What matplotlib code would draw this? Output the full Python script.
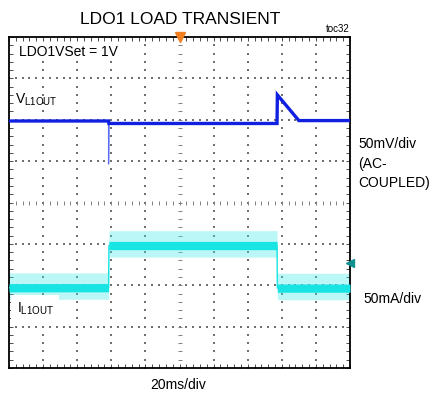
import numpy as np
import matplotlib
matplotlib.use("Agg")
import matplotlib.pyplot as plt

# ---------------- data (in scope divisions) ----------------
# Output voltage trace (AC-coupled, 50mV/div)
v_time = [0.0, 2.92, 2.93, 7.86, 7.87, 8.50, 10.0]
v_level = [1.97, 1.97, 1.91, 1.91, 2.60, 1.98, 1.98]
# Undershoot spike at load step
spike_time = [2.92, 2.92, 2.93]
spike_level = [1.97, 0.93, 1.91]
# Load current trace (50mA/div)
i_time = [0.0, 2.92, 2.93, 7.86, 7.87, 10.0]
i_level = [-2.06, -2.06, -1.04, -1.04, -2.07, -2.07]
# noise envelope (divisions)
i_core_half = 0.10
i_spike_up = 0.36
i_spike_down = 0.28

title = "LDO1 LOAD TRANSIENT"
plt.rcParams['font.family'] = ['Liberation Sans', 'DejaVu Sans']
plt.rcParams['mathtext.fontset'] = 'custom'
plt.rcParams['mathtext.rm'] = 'Liberation Sans'
plt.rcParams['mathtext.it'] = 'Liberation Sans'

fig = plt.figure(figsize=(4.30, 3.98), dpi=100)
ax = fig.add_axes([9/430, 1-368/398, 341/430, 331/398])
ax.set_xlim(0, 10)
ax.set_ylim(-4, 4)

# grid dots
gx = np.arange(0, 10.001, 0.2)
gy = np.arange(-4, 4.001, 0.2)
dot_c = '#707070'
for xv in range(1, 10):
    if xv == 5:
        continue
    ax.scatter(np.full(gy.size, xv), gy, s=0.6, marker='s', color=dot_c, lw=0, zorder=1)
for yv in range(-3, 4):
    if yv == 0:
        continue
    ax.scatter(gx, np.full(gx.size, yv), s=0.6, marker='s', color=dot_c, lw=0, zorder=1)
# center crosshair with ticks
ax.plot(gx, np.zeros_like(gx), ls='none', marker='|', ms=3.2, mew=0.7, color='#808080', zorder=1)
ax.plot(np.full(gy.size, 5.0), gy, ls='none', marker='_', ms=3.2, mew=0.7, color='#808080', zorder=1)

# current trace: noise bands
it = np.array(i_time)
il = np.array(i_level)
ax.fill_between(it, il - i_spike_down, il + i_spike_up, color='#40eaea', alpha=0.35, lw=0, zorder=2)
ax.fill_between(it, il - i_core_half, il + i_core_half, color='#18e4e4', lw=0, zorder=3)
ax.plot(it, il, color='#18e4e4', lw=1.0, zorder=3)

# voltage trace
ax.plot(spike_time, spike_level, color='#5a6af0', lw=0.9, zorder=4)
ax.plot(v_time, v_level, color='#1020e0', lw=2.4, zorder=5, solid_joinstyle='miter')

# frame & ticks
for s in ax.spines.values():
    s.set_linewidth(1.3)
ax.set_xticks(np.arange(0, 10.01, 1))
ax.set_yticks(np.arange(-4, 4.01, 1))
ax.set_xticks(gx, minor=True)
ax.set_yticks(gy, minor=True)
ax.tick_params(which='both', direction='in', top=True, right=True, length=3, width=0.6,
               labelbottom=False, labelleft=False, color='#303030')

# markers
ax.plot([5], [4], marker='v', ms=7, color='#f08020', clip_on=False, zorder=6)
ax.plot([10], [-1.46], marker='<', ms=6, color='#109090', clip_on=False, zorder=6)

# labels inside
ax.text(0.29, 3.63, "LDO1VSet = 1V", fontsize=10, va='center', ha='left',
        bbox=dict(facecolor='white', edgecolor='none', pad=1.5), zorder=7)
ax.text(0.18, 2.48, r"V$_{\mathrm{L1OUT}}$", fontsize=10, va='center', ha='left', zorder=7)
ax.text(0.23, -2.57, r"I$_{\mathrm{L1OUT}}$", fontsize=10, va='center', ha='left',
        bbox=dict(facecolor='white', edgecolor='none', pad=4), zorder=7)

# outside text
fig.text(180/430, 1-19/398, title, fontsize=12.5, ha='center', va='center')
fig.text(350/430, 1-29/398, "toc32", fontsize=7, ha='right', va='center')
fig.text(358/430, 1-164/398, "50mV/div\n(AC-\nCOUPLED)", fontsize=10, ha='left', va='center',
         linespacing=1.5)
fig.text(363/430, 1-299/398, "50mA/div", fontsize=10, ha='left', va='center')
fig.text(178/430, 1-385/398, "20ms/div", fontsize=10, ha='center', va='center')

fig.savefig("out.png", dpi=100)
